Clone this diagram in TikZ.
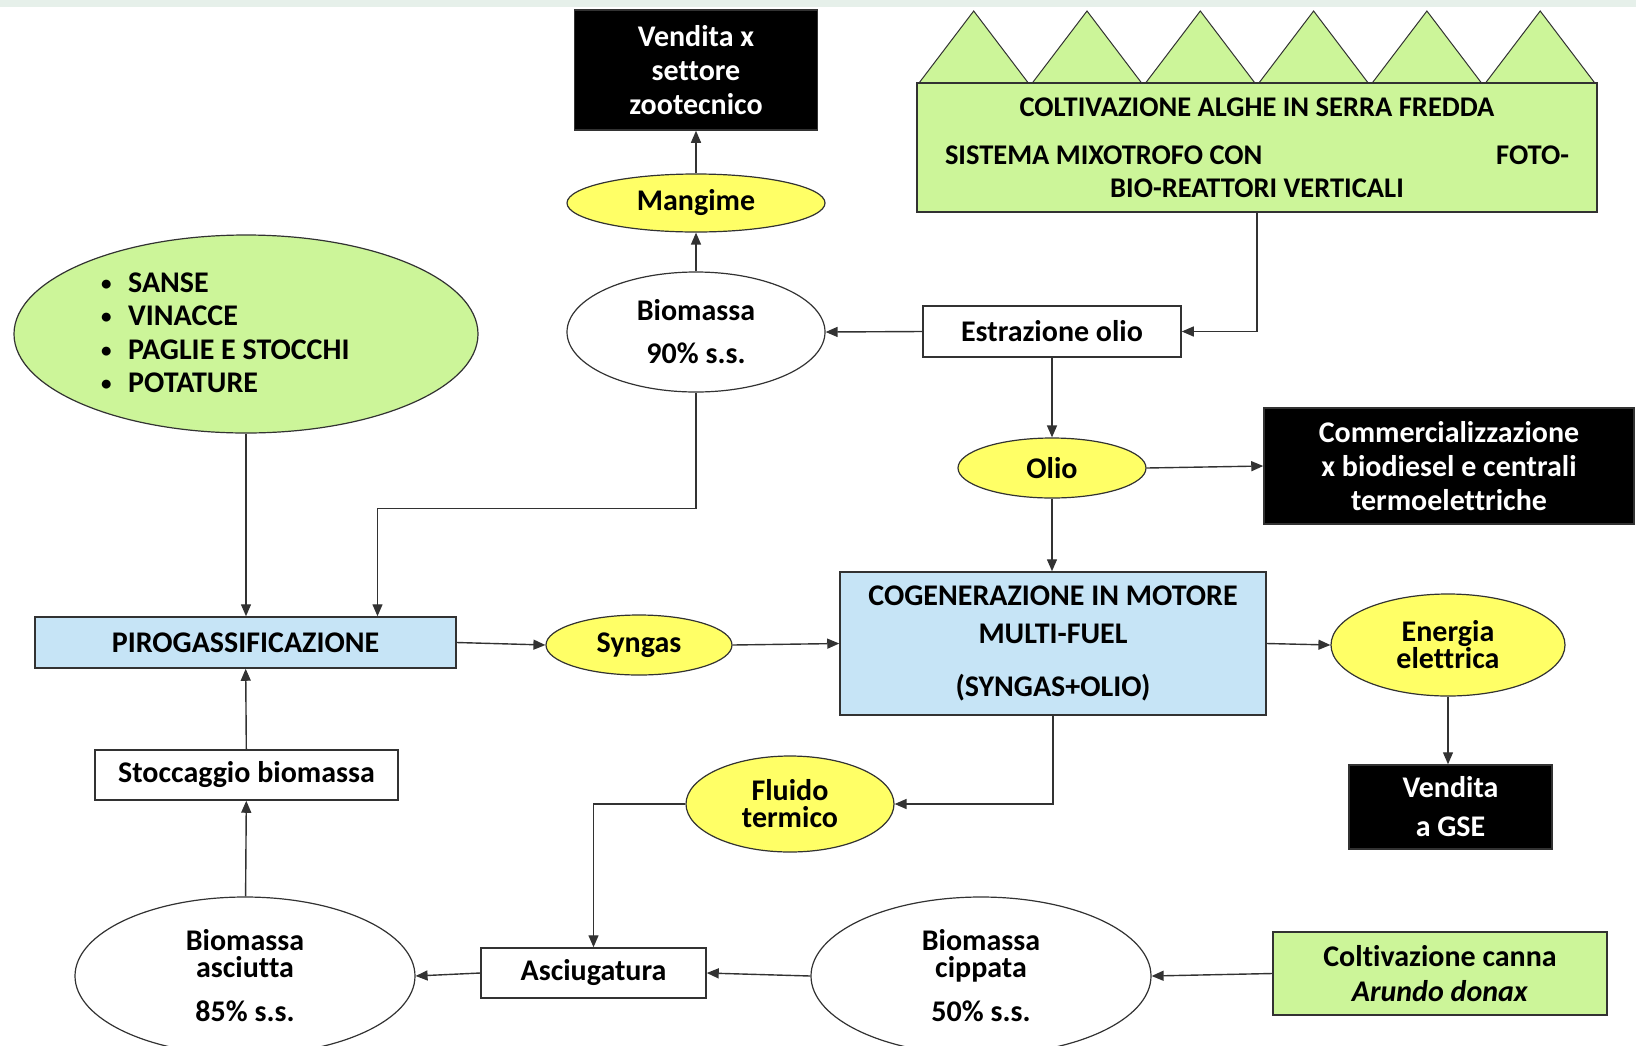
\documentclass[tikz,border=0pt]{standalone}
\usepackage{fontspec}
\setmainfont{Carlito}[Ligatures=NoCommon]
\usepackage{tikz}
\usetikzlibrary{shapes.geometric,arrows.meta}
\definecolor{verde}{RGB}{204,245,153}
\definecolor{giallo}{RGB}{255,255,102}
\definecolor{azzurro}{RGB}{198,228,246}
\definecolor{linea}{RGB}{50,50,50}
\definecolor{fascia}{RGB}{230,240,234}
\newcommand{\puntino}{\makebox[27pt][l]{\raisebox{2pt}{\scalebox{0.7}{\textbullet}}}}

\begin{document}
\begin{tikzpicture}[x=1pt,y=-1pt,
  testo/.style={font=\bfseries\fontsize{30}{34}\selectfont,align=center},
  stretto/.style={font=\bfseries\fontsize{30}{27}\selectfont},
  scatola/.style={testo,rectangle,draw=linea,line width=1.5pt,inner sep=0pt},
  ovale/.style={testo,ellipse,draw=linea,line width=1.2pt,inner sep=0pt},
  freccia/.style={draw=linea,line width=1.4pt,-{Triangle[length=12pt,width=10pt]}}]
   \useasboundingbox (0,0) rectangle (1636,1045);
   \fill[fascia] (0,0) rectangle (1636,7);

   \foreach \i in {0,...,5}
     \draw[fill=verde,draw=linea,line width=1pt] ({919+113.3*\i},83) -- ({917+113.3*\i+56.7},11) -- ({915+113.3*(\i+1)},83) -- cycle;
   \node[scatola,fill=verde,minimum width=680pt,minimum height=129pt,
         font=\bfseries\fontsize{28.5}{33}\selectfont] (serra) at (1257,147.5)
     {COLTIVAZIONE ALGHE IN SERRA FREDDA\\[15pt]
      \makebox[624pt]{SISTEMA MIXOTROFO CON\hfill FOTO-}\\
      BIO-REATTORI VERTICALI};

   \node[scatola,fill=black,text=white,minimum width=243pt,minimum height=120pt] (zootecnia) at (696,70) {Vendita x\\settore\\zootecnico};
   \node[ovale,fill=giallo,minimum width=258pt,minimum height=58pt] (mangime) at (696,203) {Mangime};
   \node[ovale,fill=white,minimum width=258pt,minimum height=120pt] (bio90) at (696,332) {Biomassa\\[9pt]90\% s.s.};
   \node[scatola,fill=white,minimum width=258pt,minimum height=51pt] (estrazione) at (1052,331.5) {Estrazione olio};

   \node[ovale,fill=verde,minimum width=464pt,minimum height=198pt] (scarti) at (246,334) {};
   \node[testo,align=left,anchor=west,inner sep=0pt,font=\bfseries\fontsize{30}{33.5}\selectfont] (residui) at (101,333)
     {\puntino SANSE\\
      \puntino VINACCE\\
      \puntino PAGLIE E STOCCHI\\
      \puntino POTATURE};

   \node[ovale,fill=giallo,minimum width=188pt,minimum height=60pt] (olio) at (1052,468) {Olio};
   \node[scatola,fill=black,text=white,minimum width=370pt,minimum height=116pt] (commercio) at (1449,466) {Commercializzazione\\x biodiesel e centrali\\termoelettriche};

   \node[scatola,fill=azzurro,minimum width=421pt,minimum height=51pt] (piro) at (245.5,642.5) {PIROGASSIFICAZIONE};
   \node[ovale,fill=giallo,minimum width=186pt,minimum height=60pt] (syngas) at (639,645) {Syngas};
   \node[scatola,fill=azzurro,minimum width=426pt,minimum height=143pt,font=\bfseries\fontsize{30}{38}\selectfont] (cogen) at (1053,643.5) {COGENERAZIONE IN MOTORE\\MULTI-FUEL\\[15pt](SYNGAS+OLIO)};
   \node[ovale,stretto,fill=giallo,minimum width=234pt,minimum height=102pt] (energia) at (1448,645) {Energia\\elettrica};
   \node[scatola,fill=black,text=white,minimum width=203pt,minimum height=84pt] (gse) at (1450.5,807) {Vendita\\[5pt]a GSE};

   \node[scatola,fill=white,minimum width=303pt,minimum height=50pt] (stoccaggio) at (246.5,775) {Stoccaggio biomassa};
   \node[ovale,stretto,fill=giallo,minimum width=208pt,minimum height=96pt] (fluido) at (790,804) {Fluido\\termico};
   \node[ovale,stretto,fill=white,minimum width=340pt,minimum height=158pt] (asciutta) at (245,976) {Biomassa\\asciutta\\[17pt]85\% s.s.};
   \node[scatola,fill=white,minimum width=225pt,minimum height=50pt] (asciugatura) at (593.5,973) {Asciugatura};
   \node[ovale,stretto,fill=white,minimum width=340pt,minimum height=158pt] (cippata) at (981,976) {Biomassa\\cippata\\[17pt]50\% s.s.};
   \node[scatola,fill=verde,minimum width=334pt,minimum height=83pt,font=\bfseries\fontsize{30}{35}\selectfont] (canna) at (1440,973.5) {Coltivazione canna\\\textit{Arundo donax}};

   \draw[freccia] (mangime) -- (zootecnia);
   \draw[freccia] (bio90) -- (mangime);
   \draw[freccia] (serra.south) |- (estrazione.east);
   \draw[freccia] (estrazione.west) -- (bio90.east);
   \draw[freccia] (estrazione.south) -- (olio.north);
   \draw[freccia] (olio.east) -- (commercio.west);
   \draw[freccia] (olio.south) -- (olio.south |- cogen.north);
   \draw[freccia] (bio90.south) -- ++(0,116) -| ([xshift=132pt]piro.north);
   \draw[freccia] (scarti.south) -- (scarti.south |- piro.north);
   \draw[freccia] (stoccaggio) -- (piro);
   \draw[freccia] (asciutta) -- (stoccaggio);
   \draw[freccia] (piro.east) -- (syngas.west);
   \draw[freccia] (syngas.east) -- (cogen.west);
   \draw[freccia] (cogen.east) -- (energia.west);
   \draw[freccia] (energia.south) -- (energia.south |- gse.north);
   \draw[freccia] (cogen.south) |- (fluido.east);
   \draw[freccia] (fluido.west) -| (asciugatura.north);
   \draw[freccia] (cippata.west) -- (asciugatura.east);
   \draw[freccia] (asciugatura.west) -- (asciutta.east);
   \draw[freccia] (canna.west) -- (cippata.east);
\end{tikzpicture}
\end{document}
